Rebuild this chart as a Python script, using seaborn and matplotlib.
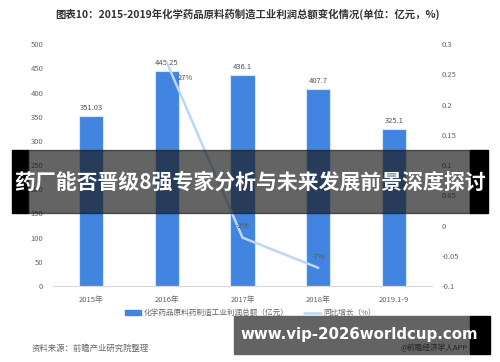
import matplotlib
matplotlib.use('Agg')
import matplotlib.pyplot as plt
from matplotlib.patches import Rectangle, Patch
from matplotlib.lines import Line2D
import seaborn as sns

sns.set_style('white')
plt.rcParams['font.family'] = ['Noto Sans CJK SC', 'DejaVu Sans']
plt.rcParams['axes.unicode_minus'] = False

# 数据
years = ['2015年', '2016年', '2017年', '2018年', '2019.1-9']
profit = [351.03, 445.25, 436.1, 407.7, 325.1]
growth_years = ['2016年', '2017年', '2018年']
growth = [0.27, -0.02, -0.07]
growth_labels = ['27%', '-2%', '-7%']
left_ticks = [0, 50, 100, 150, 200, 250, 300, 350, 400, 450, 500]
right_ticks = [-0.1, -0.05, 0, 0.05, 0.1, 0.15, 0.2, 0.25, 0.3]
right_labels = ['-0.1', '-0.05', '0', '0.05', '0.1', '0.15', '0.2', '0.25', '0.3']

bar_color = '#4285e0'
line_color = '#bcd6f5'
txt_color = '#666666'

fig = plt.figure(figsize=(5, 3.62), dpi=100)
ax = fig.add_axes([0.106, 0.21, 0.758, 0.668])

sns.barplot(x=years, y=profit, ax=ax, color=bar_color, width=0.32,
            edgecolor='#d6e6fa', linewidth=0.8, saturation=1)
ax.set_ylim(0, 500)
ax.set_xlim(-0.5, 4.5)
ax.set_yticks(left_ticks)
ax.tick_params(axis='both', labelsize=5.5, colors=txt_color, length=0, pad=7)
ax.set_xlabel('')
ax.set_ylabel('')
for s in ['top', 'left', 'right']:
    ax.spines[s].set_visible(False)
ax.spines['bottom'].set_color('#d9d9d9')
for i, v in enumerate(profit):
    ax.text(i, v + 8, f'{v:g}', ha='center', va='bottom', fontsize=5.5, color='#555555')

ax2 = ax.twinx()
gx = [years.index(g) for g in growth_years]
sns.lineplot(x=gx, y=growth, ax=ax2, color=line_color, linewidth=1.8)
ax2.set_ylim(-0.1, 0.3)
ax2.set_yticks(right_ticks)
ax2.set_yticklabels(right_labels)
ax2.tick_params(axis='y', labelsize=5.5, colors=txt_color, length=0, pad=7)
ax2.set_ylabel('')
for s in ['top', 'left', 'right', 'bottom']:
    ax2.spines[s].set_visible(False)
offsets = [(0.25, -0.032), (0.0, 0.012), (0.0, 0.012)]
for xi, yi, lab, off in zip(gx, growth, growth_labels, offsets):
    ax2.text(xi + off[0], yi + off[1], lab, ha='center', va='bottom', fontsize=5.5, color='#555555')
ax.set_xlim(-0.5, 4.5)

# 标题与图例
fig.text(0.495, 0.961, '图表10：2015-2019年化学药品原料药制造工业利润总额变化情况(单位：亿元，%)',
         ha='center', va='center', fontsize=7.5, fontweight='bold', color='#333333')
handles = [Patch(color=bar_color), Line2D([0], [0], color=line_color, lw=1.8)]
fig.legend(handles, ['化学药品原料药制造工业利润总额（亿元）', '同比增长（%）'],
           loc='center', bbox_to_anchor=(0.5, 0.135), ncol=2, frameon=False,
           fontsize=5.5, handlelength=2.2, handleheight=0.5, columnspacing=2.0,
           handletextpad=0.3, labelcolor=txt_color)
fig.text(0.064, 0.039, '资料来源：前瞻产业研究院整理', ha='left', va='center',
         fontsize=6, color=txt_color)

# 覆盖横幅
W, H = 500, 362
def rect(x0, y0, x1, y1, c, a=1.0):
    fig.add_artist(Rectangle((x0 / W, 1 - y1 / H), (x1 - x0) / W, (y1 - y0) / H,
                             transform=fig.transFigure, color=c, alpha=a, zorder=10))

rect(12, 150, 28, 213, '#000000')
rect(28, 150, 470, 213, '#1a1a1a', 0.68)
rect(470, 150, 488, 213, '#000000')
fig.text(250 / W, 1 - 182 / H, '药厂能否晋级8强专家分析与未来发展前景深度探讨', ha='center', va='center',
         fontsize=15.0, fontweight='bold', color='white', zorder=11)

rect(234, 316, 470, 354, '#636363')
rect(470, 316, 490, 354, '#000000')
fig.text(359 / W, 1 - 334 / H, 'www.vip-2026worldcup.com', ha='center', va='center',
         fontsize=10.8, fontweight='bold', color='white', zorder=11, family='DejaVu Sans')
fig.text(468 / W, 1 - 348 / H, '@前瞻经济学人APP', ha='right', va='center',
         fontsize=5.5, color='#222222', zorder=11)

fig.savefig('out.png', dpi=100)
